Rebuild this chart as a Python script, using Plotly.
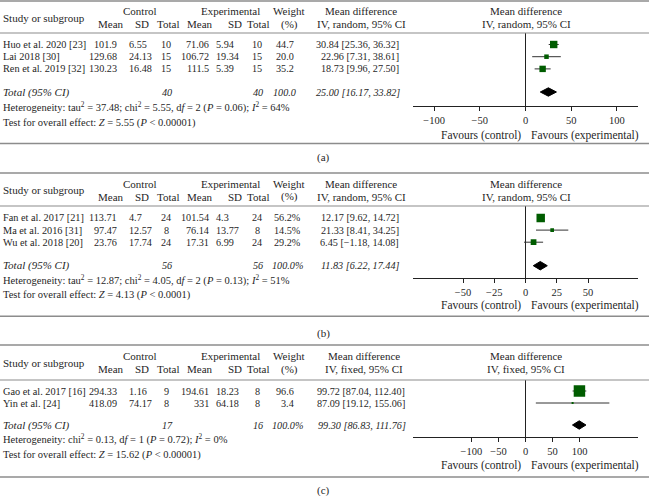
import math
import plotly.graph_objects as go

W, H = 649, 496
FONT = "Liberation Serif"
TXT = "#1f1f1f"
GREEN = "#005c00"
RULE = "#8c8c8c"
FS = 11        # words / headers
NFS = 10.2     # numbers
NAMEFS = 10.3  # study names
HETFS = 10.5   # heterogeneity / test lines

# ---------------- data: panel (a) ----------------
studies_a = ["Huo et al. 2020 [23]", "Lai 2018 [30]", "Ren et al. 2019 [32]"]
ctrl_mean_a = [101.9, 129.68, 130.23]
ctrl_sd_a = [6.55, 24.13, 16.48]
ctrl_n_a = [10, 15, 15]
exp_mean_a = [71.06, 106.72, 111.5]
exp_sd_a = [5.94, 19.34, 5.39]
exp_n_a = [10, 15, 15]
weight_a = [44.7, 20.0, 35.2]
md_a = [30.84, 22.96, 18.73]
md_low_a = [25.36, 7.31, 9.96]
md_high_a = [36.32, 38.61, 27.50]
pooled_a = [25.00, 16.17, 33.82]      # estimate, low, high
total_n_a = [40, 40]
tau2_a, chi2_a, df_a, p_het_a, i2_a = 37.48, 5.55, 2, "0.06", 64
z_a, p_z_a = 5.55, "0.00001"
ticks_a = [-100, -50, 0, 50, 100]

# ---------------- data: panel (b) ----------------
studies_b = ["Fan et al. 2017 [21]", "Ma et al. 2016 [31]", "Wu et al. 2018 [20]"]
ctrl_mean_b = [113.71, 97.47, 23.76]
ctrl_sd_b = [4.7, 12.57, 17.74]
ctrl_n_b = [24, 8, 24]
exp_mean_b = [101.54, 76.14, 17.31]
exp_sd_b = [4.3, 13.77, 6.99]
exp_n_b = [24, 8, 24]
weight_b = [56.2, 14.5, 29.2]
md_b = [12.17, 21.33, 6.45]
md_low_b = [9.62, 8.41, -1.18]
md_high_b = [14.72, 34.25, 14.08]
pooled_b = [11.83, 6.22, 17.44]
total_n_b = [56, 56]
tau2_b, chi2_b, df_b, p_het_b, i2_b = 12.87, 4.05, 2, "0.13", 51
z_b, p_z_b = 4.13, "0.0001"
ticks_b = [-50, -25, 0, 25, 50]

# ---------------- data: panel (c) ----------------
studies_c = ["Gao et al. 2017 [16]", "Yin et al. [24]"]
ctrl_mean_c = [294.33, 418.09]
ctrl_sd_c = [1.16, 74.17]
ctrl_n_c = [9, 8]
exp_mean_c = [194.61, 331]
exp_sd_c = [18.23, 64.18]
exp_n_c = [8, 8]
weight_c = [96.6, 3.4]
md_c = [99.72, 87.09]
md_low_c = [87.04, 19.12]
md_high_c = [112.40, 155.06]
pooled_c = [99.30, 86.83, 111.76]
total_n_c = [17, 16]
chi2_c, df_c, p_het_c, i2_c = 0.13, 1, "0.72", 0
z_c, p_z_c = 15.62, "0.00001"
ticks_c = [-100, -50, 0, 50, 100]


def num(v):
    return str(v).replace("-", "\u2212")


def f2(v):
    return f"{v:.2f}".replace("-", "\u2212")


def het_text(chi2, df, p, i2, tau2=None):
    s = "Heterogeneity: "
    if tau2 is not None:
        s += f"tau<sup>2</sup> = {tau2}; "
    s += f"chi<sup>2</sup> = {chi2}, d<i>f</i> = {df} (<i>P</i> = {p}); <i>I</i><sup>2</sup> = {i2}%"
    return s


def test_text(z, p):
    return f"Test for overall effect: <i>Z</i> = {z} (<i>P</i> &lt; {p})"


panels = [
    (dict(studies=studies_a, cm=ctrl_mean_a, csd=ctrl_sd_a, cn=ctrl_n_a, em=exp_mean_a,
          esd=exp_sd_a, en=exp_n_a, w=weight_a, md=md_a, lo=md_low_a, hi=md_high_a,
          pooled=pooled_a, totn=total_n_a, wsuf="", twsuf="", method="IV, random, 95% CI",
          het=het_text(chi2_a, df_a, p_het_a, i2_a, tau2_a), test=test_text(z_a, p_z_a),
          ticks=ticks_a, tag="(a)"),
     dict(top=1, h1=10.7, h2=24.3, head=33, row0=44.5, step=12.2, total=92, het=107.3,
          test=122.7, axis=106, fav=135.3, bottom=143.5, tagy=157.5, md_right=401,
          md_hdr=361, xr=[-123, 123])),
    (dict(studies=studies_b, cm=ctrl_mean_b, csd=ctrl_sd_b, cn=ctrl_n_b, em=exp_mean_b,
          esd=exp_sd_b, en=exp_n_b, w=weight_b, md=md_b, lo=md_low_b, hi=md_high_b,
          pooled=pooled_b, totn=total_n_b, wsuf="%", twsuf="%", method="IV, random, 95% CI",
          het=het_text(chi2_b, df_b, p_het_b, i2_b, tau2_b), test=test_text(z_b, p_z_b),
          ticks=ticks_b, tag="(b)"),
     dict(top=173, h1=184, h2=196.5, head=206, row0=218, step=12.1, total=265.7, het=279.8,
          test=295.3, axis=278.3, fav=305.8, bottom=316.3, tagy=333, md_right=401,
          md_hdr=361, xr=[-90, 90])),
    (dict(studies=studies_c, cm=ctrl_mean_c, csd=ctrl_sd_c, cn=ctrl_n_c, em=exp_mean_c,
          esd=exp_sd_c, en=exp_n_c, w=weight_c, md=md_c, lo=md_low_c, hi=md_high_c,
          pooled=pooled_c, totn=total_n_c, wsuf="", twsuf="%", method="IV, fixed, 95% CI",
          het=het_text(chi2_c, df_c, p_het_c, i2_c), test=test_text(z_c, p_z_c),
          ticks=ticks_c, tag="(c)"),
     dict(top=345, h1=356, h2=369, head=380, row0=391, step=12, total=425, het=439.3,
          test=455.3, axis=437.3, fav=465, bottom=477, tagy=490.5, md_right=407,
          md_hdr=364, xr=[-208, 208])),
]

fig = go.Figure()
annotations = []
shapes = []


def px(x):
    return x / W


def py(y):
    return 1 - y / H


def txt(s, x, y, anchor="center", italic=False, size=FS):
    font = dict(family=FONT, size=size, color=TXT)
    if italic:
        font["style"] = "italic"
    annotations.append(dict(text=s, x=px(x), y=py(y), xref="paper", yref="paper",
                            xanchor=anchor, yanchor="middle", showarrow=False, font=font))


for k, (P, G) in enumerate(panels, start=1):
    sfx = "" if k == 1 else str(k)
    xa, ya = "x" + sfx, "y" + sfx
    n = len(P["studies"])
    rows = list(range(n))
    total_row = (G["total"] - G["row0"]) / G["step"]

    # confidence interval whiskers
    xs, ys = [], []
    for lo, hi, r in zip(P["lo"], P["hi"], rows):
        xs += [lo, hi, None]
        ys += [r, r, None]
    fig.add_trace(go.Scatter(x=xs, y=ys, mode="lines", line=dict(color="#333333", width=1),
                             xaxis=xa, yaxis=ya, hoverinfo="skip", showlegend=False))
    # study squares (size from weight)
    sizes = [max(2.0, 1.3 * math.sqrt(w) - 1.3) for w in P["w"]]
    fig.add_trace(go.Scatter(x=P["md"], y=rows, mode="markers",
                             marker=dict(symbol="square", size=sizes, color=GREEN,
                                         opacity=1, line=dict(width=0)),
                             xaxis=xa, yaxis=ya, showlegend=False))
    # pooled diamond
    est, lo, hi = P["pooled"]
    hh = 4.2 / G["step"]
    fig.add_trace(go.Scatter(x=[lo, est, hi, est, lo],
                             y=[total_row, total_row - hh, total_row, total_row + hh, total_row],
                             mode="lines", fill="toself", fillcolor="black",
                             line=dict(color="black", width=1),
                             xaxis=xa, yaxis=ya, showlegend=False, hoverinfo="skip"))

    fig.layout["xaxis" + sfx] = dict(
        domain=[413 / W, 638 / W], range=G["xr"], anchor=ya, tickvals=P["ticks"],
        ticks="outside", ticklen=4, tickwidth=1, tickcolor="#222", showline=True,
        linecolor="#222", linewidth=1, zeroline=True, zerolinecolor="#222",
        zerolinewidth=1, showgrid=False, fixedrange=True,
        tickfont=dict(family=FONT, size=10.5, color=TXT))
    fig.layout["yaxis" + sfx] = dict(
        domain=[py(G["axis"]), py(G["head"])],
        range=[(G["axis"] - G["row0"]) / G["step"], (G["head"] - G["row0"]) / G["step"]],
        anchor=xa, visible=False, showgrid=False, zeroline=False, fixedrange=True)

    # rules
    for yv, wd in [(G["top"], 1.4), (G["head"], 1.1), (G["bottom"], 1.4)]:
        shapes.append(dict(type="line", xref="paper", yref="paper", x0=0, x1=1,
                           y0=py(yv), y1=py(yv), line=dict(color=RULE, width=wd)))

    # headers
    txt("Study or subgroup", 1, (G["h1"] + G["h2"]) / 2, "left")
    txt("Control", 140, G["h1"])
    txt("Experimental", 230, G["h1"])
    txt("Weight", 289, G["h1"])
    for lab, x in [("Mean", 111), ("SD", 142), ("Total", 168), ("Mean", 200),
                   ("SD", 235), ("Total", 258), ("(%)", 289)]:
        txt(lab, x, G["h2"])
    txt("Mean difference", G["md_hdr"], G["h1"])
    txt(P["method"], G["md_hdr"], G["h2"])
    txt("Mean difference", 526, G["h1"])
    txt(P["method"], 526, G["h2"])

    # study rows
    for i in range(n):
        y = G["row0"] + i * G["step"]
        txt(P["studies"][i], 1, y, "left", size=NAMEFS)
        txt(num(P["cm"][i]), 118.5, y, "right", size=NFS)
        txt(num(P["csd"][i]), 127, y, "left", size=NFS)
        txt(num(P["cn"][i]), 166, y, size=NFS)
        txt(num(P["em"][i]), 211, y, "right", size=NFS)
        txt(num(P["esd"][i]), 214, y, "left", size=NFS)
        txt(num(P["en"][i]), 257, y, size=NFS)
        txt(f"{P['w'][i]:.1f}{P['wsuf']}", 296 + (7 if P["wsuf"] else 0), y, "right", size=NFS)
        txt(f"{f2(P['md'][i])} [{f2(P['lo'][i])}, {f2(P['hi'][i])}]", G["md_right"], y,
            "right", size=NFS)

    # total row
    ty = G["total"]
    txt("Total (95% CI)", 1, ty, "left", italic=True)
    txt(num(P["totn"][0]), 167, ty, italic=True, size=NFS)
    txt(num(P["totn"][1]), 258, ty, italic=True, size=NFS)
    txt(f"{100.0:.1f}{P['twsuf']}", 297.5 + (7 if P["twsuf"] else 0), ty, "right",
        italic=True, size=NFS)
    txt(f"{f2(est)} [{f2(lo)}, {f2(hi)}]", G["md_right"] + 1, ty, "right", italic=True,
        size=NFS)

    txt(P["het"], 1, G["het"], "left", size=HETFS)
    txt(P["test"], 1, G["test"], "left", size=HETFS)

    # favours labels
    for label, anc, shift in [("Favours (control)", "right", -3),
                              ("Favours (experimental)", "left", 3)]:
        annotations.append(dict(text=label, x=0, y=py(G["fav"]), xref=xa, yref="paper",
                                xanchor=anc, yanchor="middle", xshift=shift, showarrow=False,
                                font=dict(family=FONT, size=11.5, color=TXT)))
    txt(P["tag"], 323, G["tagy"])

fig.update_layout(
    width=W, height=H, margin=dict(l=0, r=0, t=0, b=0),
    paper_bgcolor="white", plot_bgcolor="white", showlegend=False,
    annotations=annotations, shapes=shapes,
    font=dict(family=FONT, size=FS, color=TXT),
)

fig.write_html("out.html", config={"displayModeBar": False},
               post_script="document.body.style.margin='0';")
